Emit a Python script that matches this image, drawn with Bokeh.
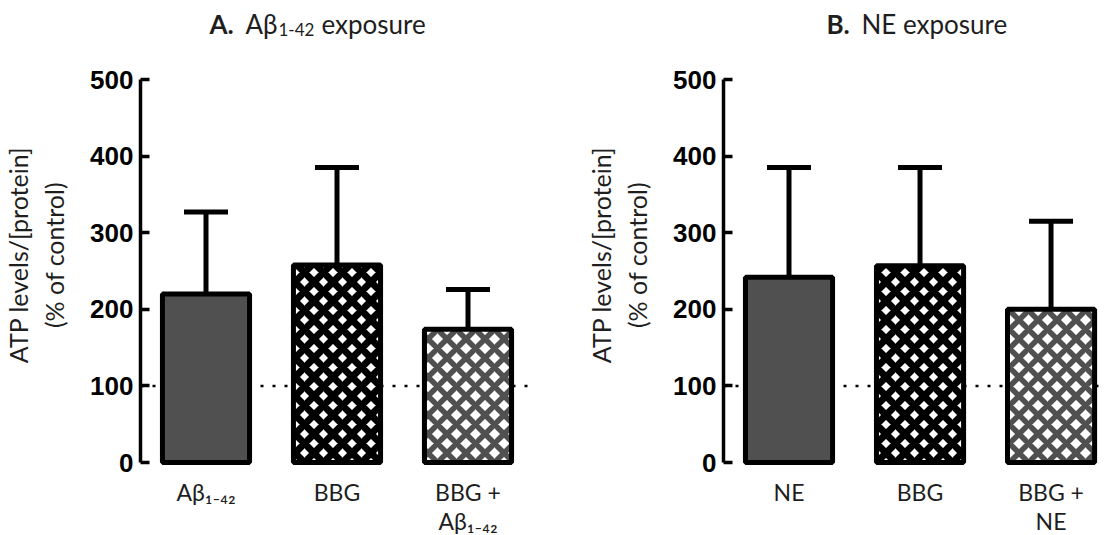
from bokeh.plotting import figure
from bokeh.models import (Range1d, FixedTicker, Span, Whisker, TeeHead,
                          ColumnDataSource, Label)
from bokeh.layouts import row, column
from bokeh.embed import file_html
from bokeh.resources import INLINE

# ---------------- data ----------------
positions = [1, 2, 3]
labels_a = ["Aβ₁₋₄₂", "BBG", "BBG +\nAβ₁₋₄₂"]
labels_b = ["NE", "BBG", "BBG +\nNE"]
mean_a = [220, 258, 174]
upper_a = [327, 385, 226]
mean_b = [242, 257, 200]
upper_b = [385, 385, 315]
control_level = 100
y_ticks = [0, 100, 200, 300, 400, 500]
y_label = "ATP levels/[protein]\n(% of control)"
# title pieces: (text, style, size, left x, baseline drop)
title_a = [("A.", "bold", "26px", 209, 0), ("Aβ", "normal", "26px", 245, 0),
           ("1-42", "normal", "17px", 278, 6), ("exposure", "normal", "26px", 321, 0)]
title_b = [("B.", "bold", "26px", 826, 0), ("NE exposure", "normal", "26px", 861, 0)]

# bar styles (solid, black cross-hatch, grey cross-hatch)
fills = ["#505050", "white", "white"]
hatches = [" ", "x", "x"]
hatch_colors = ["#505050", "black", "#505050"]
hatch_weights = [1, 7.0, 5.5]

FONT = "Lato"
TXT = "#1e1e1e"
TOP_H = 44


def make_panel(means, uppers, labels, x_end, frame_w, border_left, border_right):
    p = figure(output_backend="svg", toolbar_location=None,
               frame_width=frame_w, frame_height=421,
               min_border_left=border_left, min_border_right=border_right,
               min_border_top=0, min_border_bottom=70,
               x_range=Range1d(0.5, x_end), y_range=Range1d(-3.9, 545.7),
               tools="")
    p.outline_line_color = None
    p.xgrid.visible = False
    p.ygrid.visible = False

    src = ColumnDataSource(dict(x=positions, mean=means, upper=uppers,
                                fill=fills, hatch=hatches,
                                hcol=hatch_colors, hw=hatch_weights))

    span = Span(location=control_level, dimension="width", line_color="black",
                line_width=2.5, line_dash="3 9", level="underlay")
    p.add_layout(span)

    wh = Whisker(base="x", lower="mean", upper="upper", source=src,
                 line_width=5, line_color="black",
                 upper_head=TeeHead(size=44, line_width=5, line_color="black"),
                 lower_head=None, level="underlay")
    p.add_layout(wh)

    p.vbar(x="x", top="mean", bottom=0, width=0.665, source=src,
           fill_color="fill", line_color="black", line_width=5,
           hatch_pattern="hatch", hatch_color="hcol", hatch_weight="hw",
           hatch_scale=19)

    # y axis
    ya = p.yaxis[0]
    ya.ticker = FixedTicker(ticks=y_ticks)
    ya.bounds = (0, 500)
    ya.axis_line_width = 3.5
    ya.major_tick_line_width = 3.5
    ya.major_tick_in = 9
    ya.major_tick_out = 0
    ya.minor_tick_line_color = None
    ya.major_label_text_font = "Liberation Sans"
    ya.major_label_text_font_style = "bold"
    ya.major_label_text_font_size = "26px"
    ya.major_label_text_color = "black"
    ya.major_label_standoff = 7
    ya.axis_label = y_label
    ya.axis_label_text_font = FONT
    ya.axis_label_text_font_style = "normal"
    ya.axis_label_text_font_size = "25px"
    ya.axis_label_text_color = TXT
    ya.axis_label_standoff = 18

    # x axis
    xa = p.xaxis[0]
    xa.ticker = FixedTicker(ticks=positions)
    xa.major_label_overrides = {pos: lab for pos, lab in zip(positions, labels)}
    xa.axis_line_color = None
    xa.major_tick_line_color = None
    xa.minor_tick_line_color = None
    xa.major_label_text_font = FONT
    xa.major_label_text_font_size = "23px"
    xa.major_label_text_line_height = 1.05
    xa.major_label_text_color = TXT
    xa.major_label_standoff = 6
    return p


pa = make_panel(mean_a, upper_a, labels_a, 3.5, 393, 140, 20)
pb = make_panel(mean_b, upper_b, labels_b, 3.408, 381, 170, 5)

# title strip
pt = figure(output_backend="svg", toolbar_location=None, frame_width=1109,
            frame_height=TOP_H, min_border=0, x_axis_location=None,
            y_axis_location=None, x_range=Range1d(0, 1), y_range=Range1d(0, 1),
            tools="")
pt.outline_line_color = None
pt.xgrid.visible = False
pt.ygrid.visible = False
for text, style, size, lx, drop in title_a + title_b:
    pt.add_layout(Label(x=lx, y=21 - drop, x_units="screen", y_units="screen",
                        text=text, text_font=FONT, text_font_style=style,
                        text_font_size=size, text_color=TXT,
                        text_baseline="alphabetic"))

layout = column(pt, row(pa, pb))
open("out.html", "w").write(file_html(layout, INLINE))
